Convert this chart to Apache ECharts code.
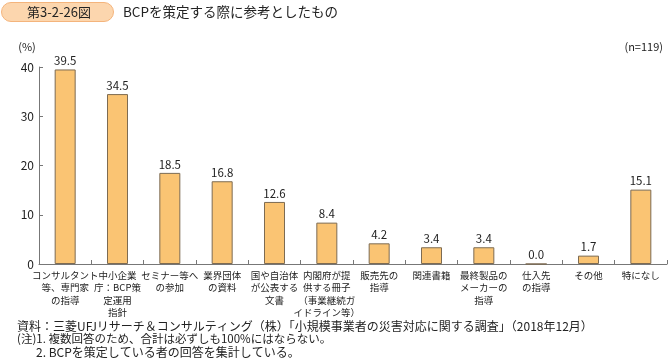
<!DOCTYPE html>
<html><head><meta charset="utf-8">
<script src="https://cdn.jsdelivr.net/npm/echarts@6/dist/echarts.min.js"></script>
<style>html,body{margin:0;padding:0;background:#fff;}#c{width:668px;height:360px;}</style>
</head><body><div id="c"></div>
<script>
const categories = [
  'コンサルタント\n等、専門家\nの指導',
  '中小企業\n庁：BCP策\n定運用\n指針',
  'セミナー等へ\nの参加',
  '業界団体\nの資料',
  '国や自治体\nが公表する\n文書',
  '内閣府が提\n供する冊子\n（事業継続ガ\nイドライン等）',
  '販売先の\n指導',
  '関連書籍',
  '最終製品の\nメーカーの\n指導',
  '仕入先\nの指導',
  'その他',
  '特になし'
];
const values = [39.5, 34.5, 18.5, 16.8, 12.6, 8.4, 4.2, 3.4, 3.4, 0.0, 1.7, 15.1];
const yTicks = [0, 10, 20, 30, 40];
const titleBadge = '第3-2-26図';
const titleText = 'BCPを策定する際に参考としたもの';
const unitText = '(%)';
const nText = '(n=119)';
const notes = [
  '資料：三菱UFJリサーチ＆コンサルティング（株）「小規模事業者の災害対応に関する調査」（2018年12月）',
  '(注)1. 複数回答のため、合計は必ずしも100%にはならない。',
  '2. BCPを策定している者の回答を集計している。'
];
const FONT = '"Noto Sans CJK JP", "Noto Sans", sans-serif';
const chart = echarts.init(document.getElementById('c'), null, {renderer: 'canvas'});
chart.setOption({
  animation: false,
  textStyle: {fontFamily: FONT},
  grid: {left: 39, right: 1, top: 67, bottom: 96, containLabel: false},
  xAxis: {
    type: 'category', data: categories,
    axisLine: {lineStyle: {color: '#777', width: 1}},
    axisTick: {show: true, inside: true, length: 4, alignWithLabel: false, lineStyle: {color: '#777'}},
    axisLabel: {interval: 0, fontSize: 9.5, lineHeight: 12.5, color: '#222', margin: 5, fontFamily: FONT}
  },
  yAxis: {
    type: 'value', min: yTicks[0], max: yTicks[yTicks.length-1], interval: 10,
    axisLine: {show: true, lineStyle: {color: '#777'}},
    axisTick: {show: true, inside: true, length: 4, lineStyle: {color: '#777'}},
    splitLine: {show: false},
    axisLabel: {fontSize: 12, color: '#222', margin: 5, fontFamily: FONT}
  },
  series: [{
    type: 'bar', data: values, barWidth: 21,
    itemStyle: {color: '#FAC473', borderColor: '#7d6b52', borderWidth: 1},
    label: {show: true, position: 'top', distance: 3, fontSize: 11.5, color: '#222', fontFamily: FONT,
      formatter: p => p.value.toFixed(1)}
  }],
  graphic: [
    {type: 'rect', shape: {x: 1.5, y: 2.5, width: 112, height: 19, r: 9.5},
      style: {fill: '#FCD6AE', stroke: '#F4B47C', lineWidth: 1}},
    {type: 'text', x: 59, y: 12, style: {text: titleBadge, font: '13px ' + FONT, fill: '#222', align: 'center', verticalAlign: 'middle'}},
    {type: 'text', x: 123, y: 12, style: {text: titleText, font: '13.5px ' + FONT, fill: '#222', verticalAlign: 'middle'}},
    {type: 'text', x: 27, y: 47, style: {text: unitText, font: '11px ' + FONT, fill: '#222', align: 'center', verticalAlign: 'middle'}},
    {type: 'text', x: 663, y: 47, style: {text: nText, font: '11px ' + FONT, fill: '#222', align: 'right', verticalAlign: 'middle'}},
    {type: 'text', x: 17, y: 326, style: {text: notes[0], font: '12px ' + FONT, fill: '#222', verticalAlign: 'middle'}},
    {type: 'text', x: 17, y: 339, style: {text: notes[1], font: '11.5px ' + FONT, fill: '#222', verticalAlign: 'middle'}},
    {type: 'text', x: 36, y: 352, style: {text: notes[2], font: '12px ' + FONT, fill: '#222', verticalAlign: 'middle'}}
  ]
});
</script></body></html>
